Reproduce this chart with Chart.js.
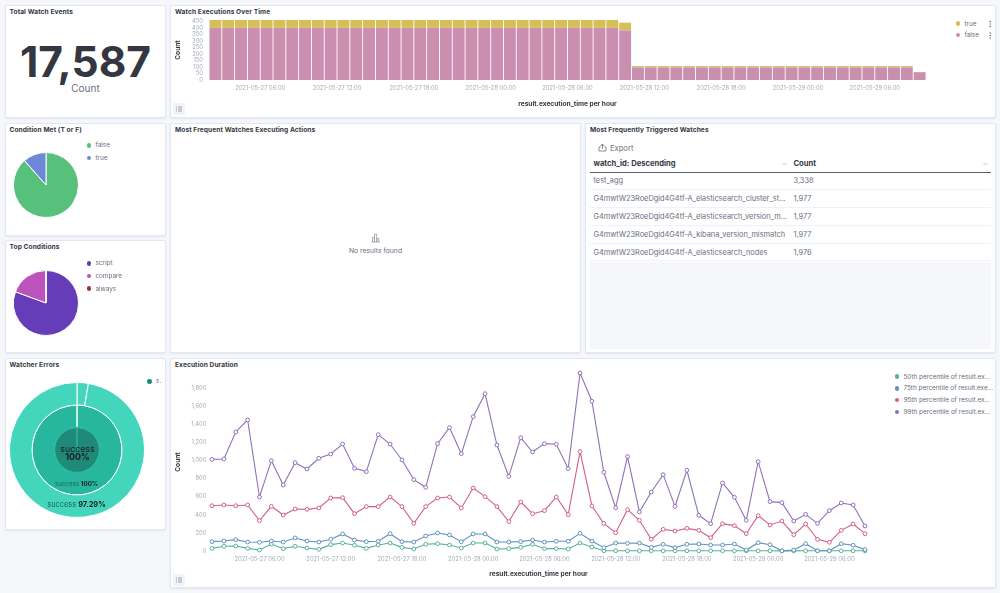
<!DOCTYPE html>
<html>
<head>
<meta charset="utf-8">
<script src="https://cdn.jsdelivr.net/npm/chart.js@4"></script>
<style>
    html, body { margin: 0; padding: 0; width: 1000px; height: 593px; overflow: hidden; background: #f5f7fa; font-family: Inter, sans-serif; }
    .panel { position: absolute; background: #fff; border: 1px solid #e3e8f0; border-radius: 2px; box-shadow: 0 1px 2px rgba(152,162,179,.2); box-sizing: border-box; }
    .title { position: absolute; font-size: 6.6px; font-weight: 700; color: #343741; left: 4px; top: 2px; white-space: nowrap; letter-spacing: .1px; }
    canvas { position: absolute; }
    .txt { position: absolute; white-space: nowrap; color: #69707d; }
    .dot { position: absolute; width: 4.6px; height: 4.6px; border-radius: 50%; }
    .lg { font-size: 6.4px; line-height: 8px; transform: translateY(-4px); }
    table { position: absolute; left: 589.5px; top: 155.5px; width: 401.5px; border-collapse: collapse; table-layout: fixed; font-size: 7.4px; color: #69707d; }
    td { padding: 0 0 0 4px; border-bottom: 1px solid #eef1f6; white-space: nowrap; box-sizing: border-box; }
    td:last-child { padding-left: 4px; }
    .head td { height: 16.5px; font-weight: 700; color: #343741; border-bottom: 1.5px solid #5a6069; font-size: 7.6px; }
    .menu { position: absolute; width: 12px; height: 12px; background: #f0f3f7; border-radius: 2px; }
</style>
</head>
<body>

<div class="panel" style="left:4.5px;top:4.5px;width:161px;height:113px"><div class="title">Total Watch Events</div></div>
<div class="panel" style="left:170px;top:4.5px;width:826px;height:113px"><div class="title">Watch Executions Over Time</div></div>
<div class="panel" style="left:4.5px;top:122.5px;width:161px;height:113px"><div class="title">Condition Met (T or F)</div></div>
<div class="panel" style="left:4.5px;top:240px;width:161px;height:113px"><div class="title">Top Conditions</div></div>
<div class="panel" style="left:4.5px;top:358px;width:161px;height:172px"><div class="title">Watcher Errors</div></div>
<div class="panel" style="left:170px;top:122.5px;width:411px;height:230.5px"><div class="title">Most Frequent Watches Executing Actions</div></div>
<div class="panel" style="left:585px;top:122.5px;width:411px;height:230.5px"><div class="title">Most Frequently Triggered Watches</div></div>
<div class="panel" style="left:170px;top:358px;width:826px;height:230px"><div class="title">Execution Duration</div></div>

<div class="txt" id="metricValue" style="left:5px;width:161px;text-align:center;top:35px;font-size:42.5px;line-height:54px;font-weight:700;color:#343741"></div>
<div class="txt" id="metricLabel" style="left:5px;width:161px;text-align:center;top:82px;font-size:10px;line-height:12px"></div>

<canvas id="barChart" width="760" height="103" style="left:174px;top:5px"></canvas>
<canvas id="pieMet" width="66" height="66" style="left:13px;top:152px"></canvas>
<canvas id="pieTop" width="66" height="66" style="left:13px;top:270px"></canvas>
<canvas id="sunburst" width="136" height="136" style="left:9px;top:382px"></canvas>
<canvas id="lineChart" width="700" height="220" style="left:174px;top:358px"></canvas>

<div class="txt" style="left:77.5px;top:444.5px;font-size:8.8px;line-height:8.4px;color:#1a1c21;transform:translateX(-50%);text-align:center">success<br><b>100%</b></div>
<div class="txt" style="left:76.5px;top:479.5px;font-size:6.2px;line-height:8px;color:#1f5f56;transform:translateX(-50%)">success <b style="color:#1a1c21">100%</b></div>
<div class="txt" style="left:76.5px;top:499.5px;font-size:7.4px;line-height:10px;color:#1f5f56;transform:translateX(-50%)">success <b style="color:#1a1c21">97.29%</b></div>

<svg style="position:absolute;left:370px;top:232px" width="11" height="11" viewBox="0 0 11 11" fill="none" stroke="#8b93a1" stroke-width=".7">
    <path d="M1 10h9M2.5 10V5.5h2V10M4.5 10V2h2.2v8M6.7 10V6.5h2V10"/>
</svg>
<div class="txt" style="left:375.5px;top:246px;font-size:6.8px;line-height:9px;transform:translateX(-50%)">No results found</div>

<svg style="position:absolute;left:598px;top:143px" width="9" height="9" viewBox="0 0 9 9" fill="none" stroke="#5a6069" stroke-width=".7">
    <path d="M2.5 3.2 4.5 1l2 2.2M4.5 1v5M2.5 4H1v4h7V4H6.5"/>
</svg>
<div class="txt" style="left:610px;top:143.5px;font-size:7.6px;line-height:9px;color:#69707d">Export</div>

<table id="watchTable"></table>
<div style="position:absolute;left:589.5px;top:262px;width:401.5px;height:87px;background:#f5f7fa"></div>

<svg style="position:absolute;left:782px;top:162px" width="5" height="4" viewBox="0 0 5 4" fill="none" stroke="#98a2b3" stroke-width=".6"><path d="M.5 1 2.5 3l2-2"/></svg>
<svg style="position:absolute;left:983px;top:162px" width="5" height="4" viewBox="0 0 5 4" fill="none" stroke="#98a2b3" stroke-width=".6"><path d="M.5 1 2.5 3l2-2"/></svg>

<svg style="position:absolute;left:988.5px;top:20px" width="3" height="20" viewBox="0 0 3 20" fill="#69707d">
    <circle cx="1.2" cy="1.5" r=".8"/><circle cx="1.2" cy="4" r=".8"/><circle cx="1.2" cy="6.5" r=".8"/>
    <circle cx="1.2" cy="13" r=".8"/><circle cx="1.2" cy="15.5" r=".8"/><circle cx="1.2" cy="18" r=".8"/>
</svg>

<div class="menu" style="left:173px;top:103px"></div>
<div class="menu" style="left:173px;top:574px"></div>
<svg style="position:absolute;left:176px;top:106px" width="6" height="6" viewBox="0 0 6 6" stroke="#69707d" stroke-width=".6"><path d="M0 1h1M2 1h4M0 3h1M2 3h4M0 5h1M2 5h4"/></svg>
<svg style="position:absolute;left:176px;top:577px" width="6" height="6" viewBox="0 0 6 6" stroke="#69707d" stroke-width=".6"><path d="M0 1h1M2 1h4M0 3h1M2 3h4M0 5h1M2 5h4"/></svg>

<div id="legends"></div>

<script>
const metricValue = "17,587";
const metricLabel = "Count";

const hours = [
    "2021-05-27 02:00", "2021-05-27 03:00", "2021-05-27 04:00", "2021-05-27 05:00", "2021-05-27 06:00", "2021-05-27 07:00",
    "2021-05-27 08:00", "2021-05-27 09:00", "2021-05-27 10:00", "2021-05-27 11:00", "2021-05-27 12:00", "2021-05-27 13:00",
    "2021-05-27 14:00", "2021-05-27 15:00", "2021-05-27 16:00", "2021-05-27 17:00", "2021-05-27 18:00", "2021-05-27 19:00",
    "2021-05-27 20:00", "2021-05-27 21:00", "2021-05-27 22:00", "2021-05-27 23:00", "2021-05-28 00:00", "2021-05-28 01:00",
    "2021-05-28 02:00", "2021-05-28 03:00", "2021-05-28 04:00", "2021-05-28 05:00", "2021-05-28 06:00", "2021-05-28 07:00",
    "2021-05-28 08:00", "2021-05-28 09:00", "2021-05-28 10:00", "2021-05-28 11:00", "2021-05-28 12:00", "2021-05-28 13:00",
    "2021-05-28 14:00", "2021-05-28 15:00", "2021-05-28 16:00", "2021-05-28 17:00", "2021-05-28 18:00", "2021-05-28 19:00",
    "2021-05-28 20:00", "2021-05-28 21:00", "2021-05-28 22:00", "2021-05-28 23:00", "2021-05-29 00:00", "2021-05-29 01:00",
    "2021-05-29 02:00", "2021-05-29 03:00", "2021-05-29 04:00", "2021-05-29 05:00", "2021-05-29 06:00", "2021-05-29 07:00",
    "2021-05-29 08:00", "2021-05-29 09:00"
];
const labelledHours = ["00:00", "06:00", "12:00", "18:00"];
const barTicks = [0, 50, 100, 150, 200, 250, 300, 350, 400, 450];
const lineTicks = [0, 200, 400, 600, 800, 1000, 1200, 1400, 1600, 1800];

const watchFalse = [
    400, 400, 400, 400, 400, 400, 400, 400, 400, 400, 400, 400, 400, 400,
    400, 400, 400, 400, 400, 400, 400, 400, 400, 400, 400, 400, 400, 400,
    400, 400, 400, 400, 380, 97, 97, 97, 97, 97, 97, 97, 97, 97,
    97, 97, 97, 97, 97, 97, 97, 97, 97, 97, 97, 97, 97, 60
];
const watchTrue = [
    60, 60, 60, 60, 60, 60, 60, 60, 60, 60, 60, 60, 60, 60,
    60, 60, 60, 60, 60, 60, 60, 60, 60, 60, 60, 60, 60, 60,
    60, 60, 60, 60, 60, 10, 10, 10, 10, 10, 10, 10, 10, 10,
    10, 10, 10, 10, 10, 10, 10, 10, 10, 10, 10, 10, 10, 1
];

const metLabels = ["false", "true"];
const metValues = [15565, 2022];
const conditionLabels = ["script", "compare", "always"];
const conditionValues = [14176, 3410, 1];

const errorOuter = [2.71, 97.29];
const errorMiddle = [100];
const errorCenter = [100];

const watchIds = [
    "test_agg",
    "G4mwtW23RoeDgid4G4tf-A_elasticsearch_cluster_st...",
    "G4mwtW23RoeDgid4G4tf-A_elasticsearch_version_m...",
    "G4mwtW23RoeDgid4G4tf-A_kibana_version_mismatch",
    "G4mwtW23RoeDgid4G4tf-A_elasticsearch_nodes"
];
const watchCounts = ["3,338", "1,977", "1,977", "1,977", "1,976"];

const p50 = [
    29, 52, 55, 29, 11, 77, 26, 52, 33, 18, 70, 88, 63, 29, 66, 88, 40, 22, 74, 81,
    66, 33, 88, 88, 22, 26, 40, 74, 26, 26, 22, 88, 44, 2, 3, 2, 2, 2, 2, 2,
    2, 2, 2, 2, 2, 2, 2, 2, 1, 1, 2, 2, 2, 2, 2, 2
];
const p75 = [
    103, 110, 125, 99, 96, 110, 99, 144, 110, 99, 129, 188, 121, 103, 107, 191, 103, 99, 166, 199,
    177, 103, 188, 188, 99, 99, 103, 121, 99, 107, 107, 195, 110, 37, 88, 85, 88, 40, 74, 37,
    74, 77, 66, 66, 77, 11, 92, 70, 2, 11, 81, 2, 2, 81, 63, 15
];
const p95 = [
    500, 508, 500, 508, 335, 493, 397, 464, 460, 475, 585, 589, 412, 490, 490, 596, 490, 305, 490, 585,
    596, 475, 696, 600, 490, 324, 541, 412, 445, 596, 401, 1097, 497, 305, 202, 456, 339, 129, 239, 221,
    250, 228, 147, 302, 280, 191, 390, 287, 331, 180, 298, 129, 96, 228, 298, 191
];
const p99 = [
    1012, 1016, 1314, 1446, 596, 997, 729, 975, 905, 1023, 1071, 1181, 913, 876, 1284, 1181, 1005, 788, 703, 1185,
    1362, 1075, 1483, 1737, 1170, 824, 1251, 1093, 1185, 1178, 909, 1965, 1653, 869, 478, 1042, 431, 651, 843, 493,
    891, 394, 302, 751, 593, 339, 986, 545, 534, 331, 405, 305, 445, 530, 508, 276
];
const lineNames = [
    "50th percentile of result.ex...",
    "75th percentile of result.exe...",
    "95th percentile of result.ex...",
    "99th percentile of result.ex..."
];

Chart.defaults.font.family = "Inter, sans-serif";
Chart.defaults.animation = false;
Chart.defaults.responsive = false;
Chart.defaults.plugins.legend.display = false;
Chart.defaults.plugins.tooltip.enabled = false;

const tickColor = "#a3abb8";
const titleColor = "#343741";

document.getElementById("metricValue").textContent = metricValue;
document.getElementById("metricLabel").textContent = metricLabel;

// Table
let rows = `<tr class="head"><td style="width:200px">watch_id: Descending</td><td>Count</td></tr>`;
watchIds.forEach(function (id, i) {
    rows += `<tr><td style="height:17.8px">${id}</td><td>${watchCounts[i]}</td></tr>`;
});
document.getElementById("watchTable").innerHTML = rows;

// Legends
function addLegend(x, y, names, colors, step) {
    const box = document.getElementById("legends");
    names.forEach(function (name, i) {
        const top = y + i * step;
        box.insertAdjacentHTML("beforeend",
            `<div class="dot" style="left:${x - 2.3}px;top:${top - 2.3}px;background:${colors[i]}"></div>` +
            `<div class="txt lg" style="left:${x + 6.4}px;top:${top}px">${name}</div>`);
    });
}

const barColors = ["#ca8eae", "#d6bf57"];
const metColors = ["#57c17b", "#6f87d8"];
const conditionColors = ["#663db8", "#bc52bc", "#9e3533"];
const lineColors = ["#54b399", "#6092c0", "#d36086", "#9170b8"];

addLegend(958, 23.7, ["true", "false"], [barColors[1], barColors[0]], 11.5);
addLegend(89, 145.3, metLabels, metColors, 12.7);
addLegend(89, 263.3, conditionLabels, conditionColors, 12.7);
addLegend(149.7, 381.3, ["s."], ["#1d8a7a"], 12);
addLegend(897, 376.7, lineNames, lineColors, 11.7);

function hourTick(value, index) {
    const label = hours[index];
    return labelledHours.includes(label.slice(11)) ? label : "";
}

function thousands(value) {
    return value.toLocaleString("en-US");
}

function axisTitle(text) {
    return { display: true, text: text, color: titleColor, padding: 0, font: { size: 6.6, weight: "700" } };
}

function useTicks(list) {
    return function (scale) {
        scale.ticks = list.map(function (v) { return { value: v }; });
    };
}

// Bar Chart
new Chart(document.getElementById("barChart"), {
    type: "bar",
    data: {
        labels: hours,
        datasets: [
            { label: "false", data: watchFalse, backgroundColor: barColors[0] },
            { label: "true", data: watchTrue, backgroundColor: barColors[1] }
        ]
    },
    options: {
        barPercentage: 0.93,
        categoryPercentage: 1,
        layout: { padding: { top: 15, right: 8, left: 0, bottom: 0 } },
        scales: {
            x: {
                stacked: true,
                grid: { display: false, drawTicks: false },
                border: { display: false },
                title: axisTitle("result.execution_time per hour"),
                afterFit: function (scale) { scale.height = 28; },
                ticks: {
                    autoSkip: false, minRotation: 0, maxRotation: 0, padding: 5,
                    color: tickColor, font: { size: 5.8 },
                    labelOffset: -6.4,
                    callback: hourTick
                }
            },
            y: {
                stacked: true,
                min: 0,
                max: 460,
                grid: { display: false, drawTicks: false },
                border: { display: false },
                title: axisTitle("Count"),
                afterBuildTicks: useTicks(barTicks),
                afterFit: function (scale) { scale.width = 35; },
                ticks: { padding: 6, autoSkip: false, color: tickColor, font: { size: 5.8 } }
            }
        }
    }
});

// Pie Charts
function makePie(id, labels, values, colors) {
    new Chart(document.getElementById(id), {
        type: "pie",
        data: {
            labels: labels,
            datasets: [{ data: values, backgroundColor: colors, borderColor: "#fff", borderWidth: 1 }]
        }
    });
}

makePie("pieMet", metLabels, metValues, metColors);
makePie("pieTop", conditionLabels, conditionValues, conditionColors);

// Sunburst
new Chart(document.getElementById("sunburst"), {
    type: "doughnut",
    data: {
        datasets: [
            { data: errorOuter, backgroundColor: "#43d6bd", borderColor: "#fff", borderWidth: 1 },
            { data: errorMiddle, backgroundColor: "#27b79f", borderColor: "#fff", borderWidth: 1 },
            { data: errorCenter, backgroundColor: "#1f8a78", borderColor: "#27b79f", borderWidth: 1.5, order: -1 }
        ]
    },
    options: { cutout: 0 }
});

// Line Chart
function lineSet(label, values, color) {
    return {
        label: label,
        data: values,
        clip: false,
        borderColor: color,
        backgroundColor: "#fff",
        borderWidth: 1.1,
        tension: 0,
        pointRadius: 1.9,
        pointBorderWidth: 1,
        pointBorderColor: color,
        pointBackgroundColor: "#fff"
    };
}

new Chart(document.getElementById("lineChart"), {
    type: "line",
    data: {
        labels: hours,
        datasets: [
            lineSet(lineNames[3], p99, lineColors[3]),
            lineSet(lineNames[2], p95, lineColors[2]),
            lineSet(lineNames[1], p75, lineColors[1]),
            lineSet(lineNames[0], p50, lineColors[0])
        ]
    },
    options: {
        layout: { padding: { top: 15, right: 9, left: 0, bottom: 0 } },
        scales: {
            x: {
                offset: false,
                grid: { display: false, drawTicks: false },
                border: { display: false },
                title: axisTitle("result.execution_time per hour"),
                afterFit: function (scale) { scale.height = 27; },
                ticks: {
                    autoSkip: false, minRotation: 0, maxRotation: 0, padding: 5,
                    color: tickColor, font: { size: 5.8 },
                    callback: hourTick
                }
            },
            y: {
                min: 0,
                max: 1965,
                grid: { display: false, drawTicks: false },
                border: { display: false },
                title: axisTitle("Count"),
                afterBuildTicks: useTicks(lineTicks),
                afterFit: function (scale) { scale.width = 38; },
                ticks: {
                    padding: 5.7, autoSkip: false, color: tickColor, font: { size: 5.8 },
                    callback: thousands
                }
            }
        }
    }
});
</script>
</body>
</html>
